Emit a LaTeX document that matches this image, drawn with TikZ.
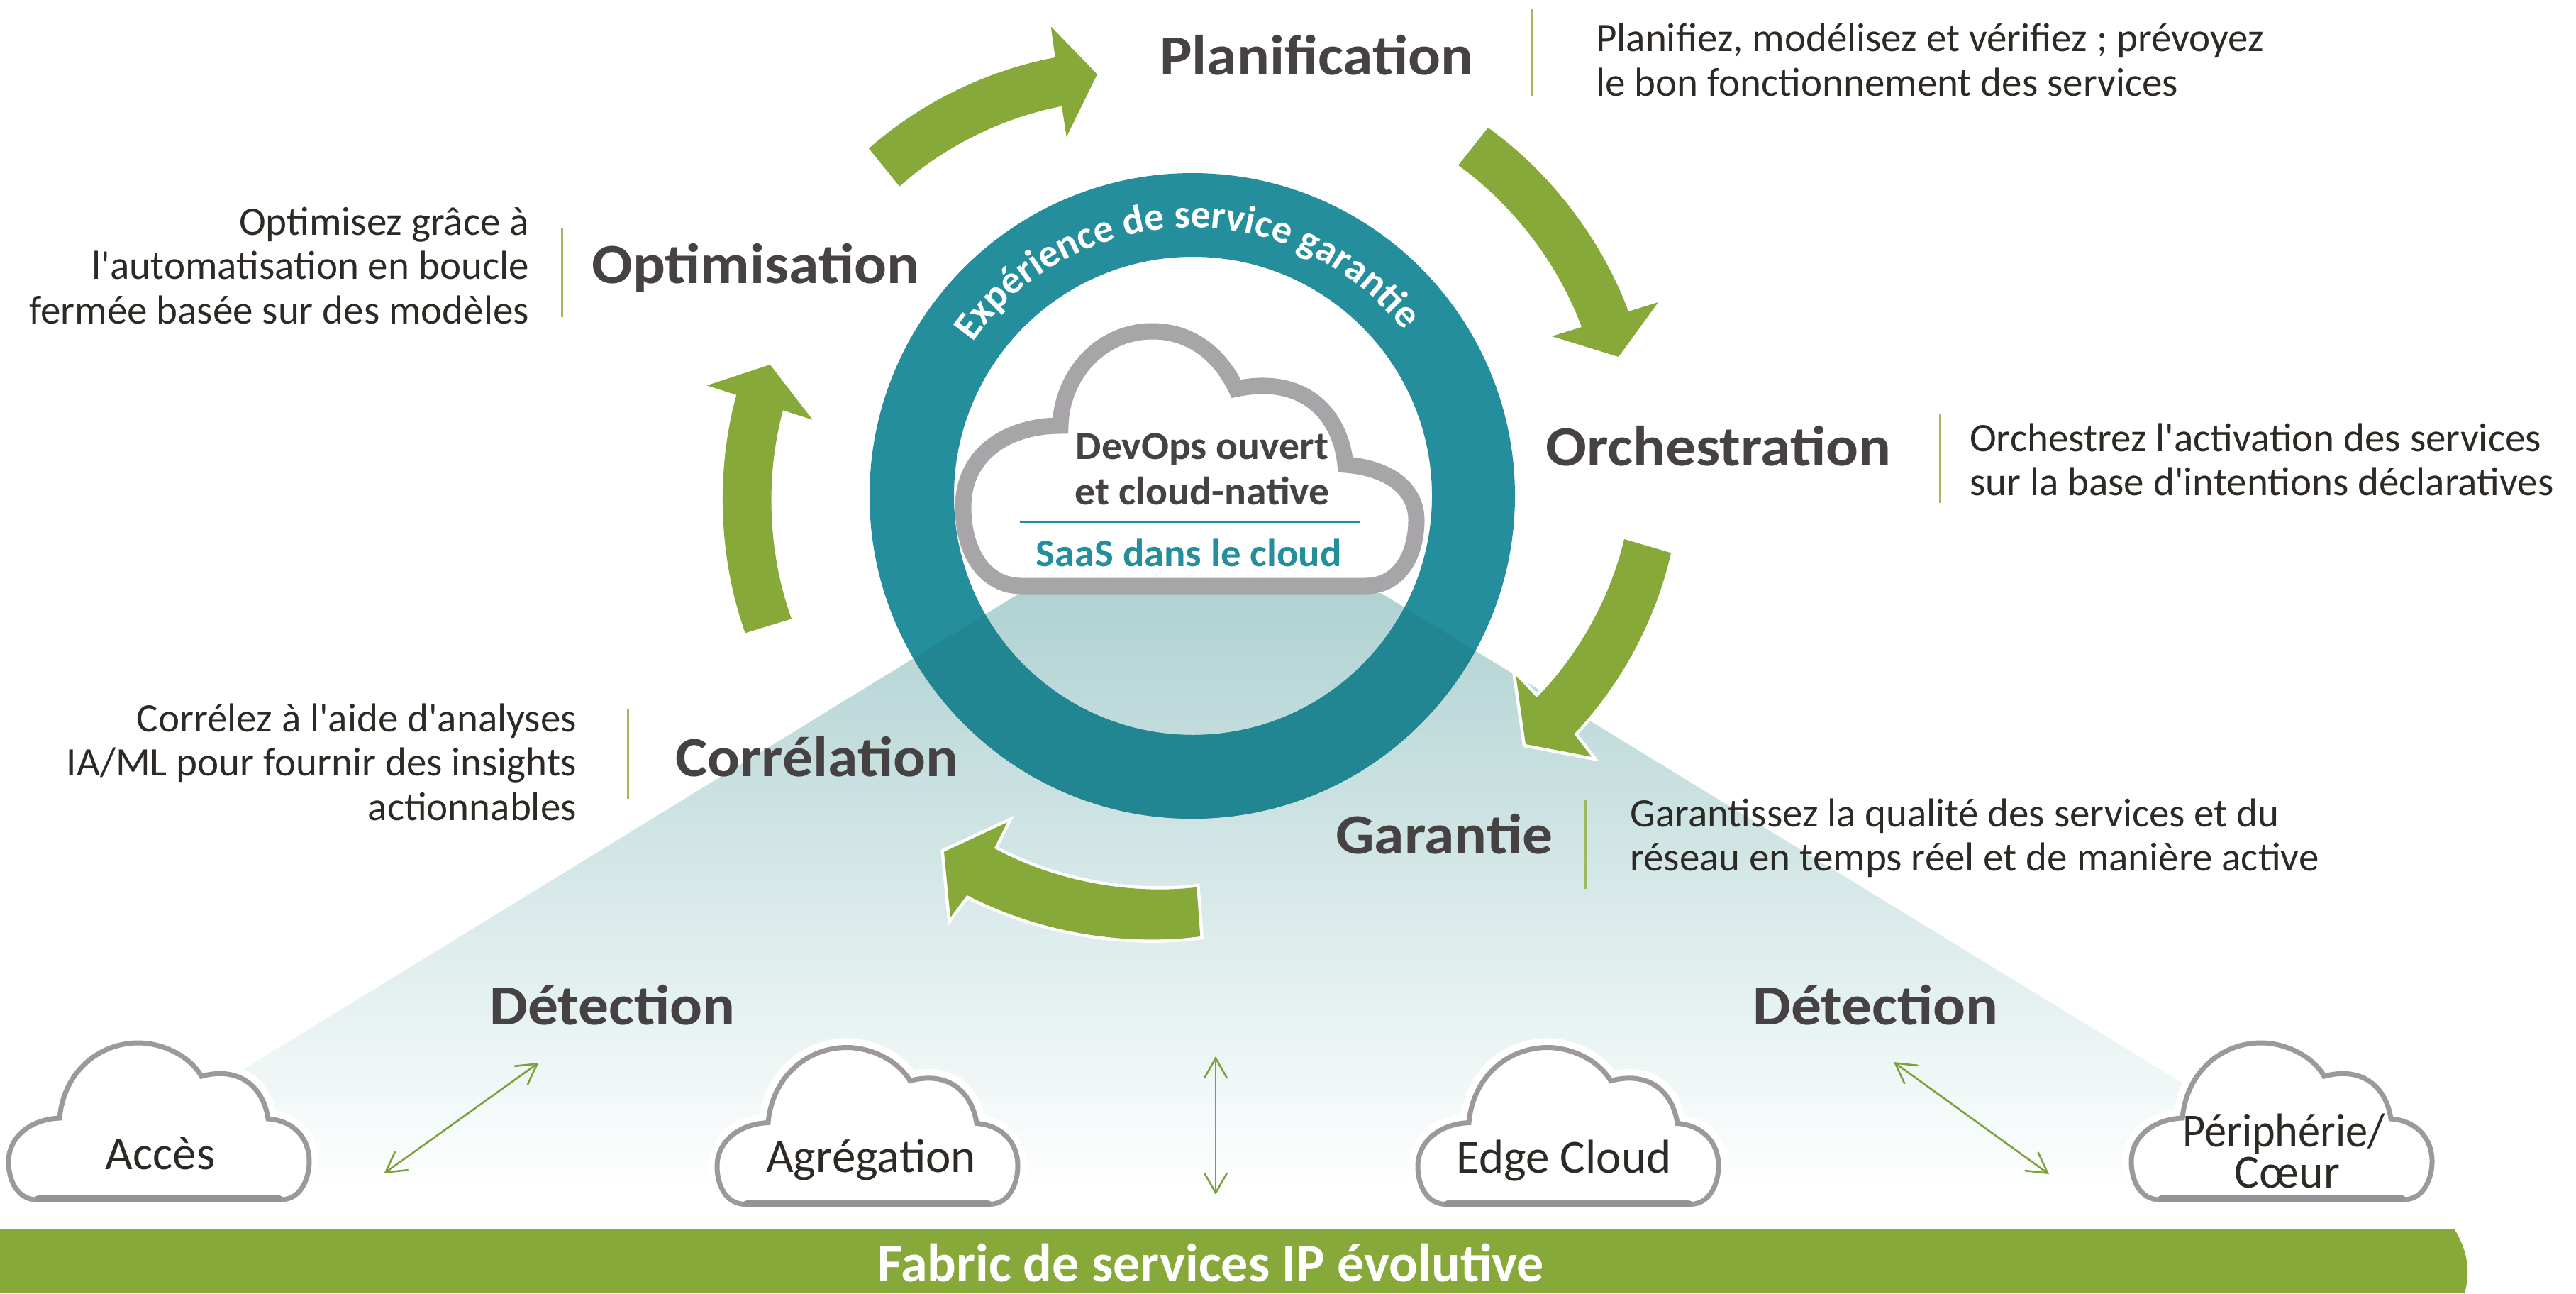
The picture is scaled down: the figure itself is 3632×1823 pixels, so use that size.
\documentclass[tikz,border=0pt]{standalone}
\usepackage{fontspec}
\usetikzlibrary{arrows.meta,decorations.text}
\newfontfamily\lat{Carlito}
\newfontfamily\latb[FakeStretch=1.07]{Carlito}
\newfontfamily\latc[FakeStretch=1.03]{Carlito}
\newfontfamily\latn[FakeStretch=.93]{Carlito}
\newfontfamily\latm[FakeStretch=.98]{Carlito}
\definecolor{grn}{HTML}{87A93A}
\definecolor{rulegrn}{HTML}{9DB861}
\definecolor{thinc}{HTML}{7BA23A}
\definecolor{teal}{HTML}{248E9C}
\definecolor{tealdark}{HTML}{228692}
\definecolor{head}{HTML}{464243}
\definecolor{body}{HTML}{2D2A26}
\definecolor{tri}{HTML}{B0D2D2}
\definecolor{cloudbig}{HTML}{A7A5A8}
\definecolor{cloudsm}{HTML}{9B999C}
\definecolor{cloudbot}{HTML}{959396}
\tikzset{
 heading/.style={anchor=base west,inner sep=0pt,text=head,font=\fontsize{80}{80}\selectfont\latb\bfseries},
 descl/.style={anchor=north west,inner sep=0pt,align=left,text=body,font=\fontsize{57}{62.5}\selectfont\lat},
 descr/.style={anchor=north east,inner sep=0pt,align=right,text=body,font=\fontsize{57}{62.5}\selectfont\lat},
 cloudlab/.style={anchor=base,inner sep=0pt,text=body,font=\fontsize{67}{58}\selectfont\lat},
 centerlab/.style={anchor=base,inner sep=0pt,font=\fontsize{56}{56}\selectfont\latc\bfseries},
 sep/.style={rulegrn,line width=3pt},
 blockarrow/.style={fill=grn,looseness=.85,preaction={draw=white,line width=9pt,miter limit=10}},
 twoway/.style={thinc,line width=2.6pt,{Straight Barb[length=28pt,width=32pt]}-{Straight Barb[length=28pt,width=32pt]}},
}
\newcommand{\cloudp}{(1440,826) -- (1925,826) .. controls (1975,826) and (1997,780) .. (1997,733) .. controls (1997,690) and (1960,660) .. (1897,655) .. controls (1890,585) and (1840,528) .. (1743,548) .. controls (1715,490) and (1670,467) .. (1625,467) .. controls (1550,467) and (1497,530) .. (1495,600) .. controls (1420,600) and (1358,640) .. (1358,715) .. controls (1358,780) and (1390,826) .. (1440,826) -- cycle}
\newcommand{\smallp}{(52,1691) -- (396,1691) .. controls (425,1691) and (436,1660) .. (436,1637) .. controls (436,1605) and (415,1580) .. (378,1577) .. controls (372,1535) and (340,1502) .. (284,1517) .. controls (265,1485) and (225,1470) .. (195,1470) .. controls (140,1470) and (90,1510) .. (84,1576) .. controls (40,1578) and (12,1605) .. (12,1637) .. controls (12,1665) and (25,1691) .. (52,1691) -- cycle}
\newcommand{\smallcloud}[2]{\begin{scope}[shift={(#1,#2)}]
\path[fill=white,draw=white,line width=26pt,line join=round] \smallp;
\path[fill=white,draw=cloudsm,line width=7pt,miter limit=10] \smallp;
\draw[cloudbot,line width=10pt,line cap=round] (54,1690) -- (394,1690);
\end{scope}}
\begin{document}
\begin{tikzpicture}[x=1pt,y=-1pt]
\useasboundingbox (0,0) rectangle (3632,1823);
% triangle
\shade[top color=tri,bottom color=white] (1438,836) -- (1947,836) -- (3328,1680) -- (62,1680) -- cycle;
% ring
\fill[teal,even odd rule] (1681,699) circle[radius=455] (1682,699) circle[radius=337];
\begin{scope}
\clip (1438,836) -- (1947,836) -- (3328,1680) -- (62,1680) -- cycle;
\fill[tealdark,even odd rule] (1681,699) circle[radius=455] (1682,699) circle[radius=337];
\end{scope}
% ring text
\path[decorate,decoration={text along path,text align=center,text={|\fontsize{56}{56}\selectfont\lat\bfseries\color{white}|Expérience de service garan{ti}e}}]
 plot[domain=148:35,samples=60,smooth] ({1681+378*cos(\x)},{699-378*sin(\x)});
% central cloud
\path[fill=white,draw=cloudbig,line width=23pt,miter limit=10] \cloudp;
\draw[teal,line width=3pt] (1438,735) coordinate (dl) -- (1917,735) coordinate (dr);
\node[centerlab,text=head] (devops) at (1695,647) {DevOps ouvert};
\node[centerlab,text=head] (native) at (1695,711) {et cloud-native};
\node[centerlab,text=teal,font=\fontsize{55}{55}\selectfont\latc\bfseries] (saas) at (1676,798) {SaaS dans le cloud};
% block arrows
\path[blockarrow] (1225,209.3) to[bend left=15.5] (1487.7,81) -- (1481.7,37.3) -- (1547,104.7) -- (1503.7,193) -- (1497,149.7) to[bend right=15.5] (1268.3,262.7) -- cycle;
\path[blockarrow] (2098,180) to[bend left=17] (2296,439) -- (2338,426) -- (2282,503) -- (2188,474) -- (2230,461) to[bend right=17] (2056,233) -- cycle;
\path[blockarrow] (2356,779.3) to[bend left=15.5] (2219.3,1034.7) -- (2244,1066.7) -- (2151,1049) -- (2137.3,952.3) -- (2166.7,983.3) to[bend right=15.5] (2290,760) -- cycle;
\path[blockarrow] (1692.3,1320) to[bend left=17.5] (1363.3,1261.7) -- (1340,1293.3) -- (1331,1200.7) -- (1420,1159.3) -- (1401.7,1195.7) to[bend right=17.5] (1687.3,1250.7) -- cycle;
\path[blockarrow] (1050.7,892.3) to[bend left=17.5] (1038.3,556.7) -- (996.7,543.3) -- (1085.7,514) -- (1145.7,591.7) -- (1104,578.3) to[bend right=17.5] (1116,872.3) -- cycle;
% small clouds
\smallcloud{0}{0}
\smallcloud{999}{6.5}
\smallcloud{1987}{6.5}
\smallcloud{2993}{0}
% thin arrows
\coordinate (a1) at (541.5,1654); \coordinate (a2) at (759.5,1498);
\coordinate (b1) at (1714,1489); \coordinate (b2) at (1714,1684);
\coordinate (c1) at (2670,1497); \coordinate (c2) at (2889,1655);
\draw[twoway] (a1) -- (a2);
\draw[twoway] (b1) -- (b2);
\draw[twoway] (c1) -- (c2);
% bar
\fill[grn] (0,1732) -- (3460,1732) .. controls (3478,1760) and (3484,1790) .. (3475,1823) -- (0,1823) -- cycle;
\node[anchor=base west,inner sep=0pt,text=white,font=\fontsize{76}{76}\selectfont\lat\bfseries] (bar) at (1237,1806) {Fabric de services IP évolutive};
% headings
\node[heading] (h1) at (1635,105) {Planification};
\node[heading] (h2) at (834,399) {Optimisation};
\node[heading] (h3) at (2179,656) {Orchestration};
\node[heading] (h4) at (1883,1203) {Garantie};
\node[heading] (h5) at (952,1094) {Corrélation};
\node[heading] (h6) at (690,1444) {Détection};
\node[heading] (h7) at (2471,1444) {Détection};
% rules
\draw[sep] (2159,12) coordinate (r1a) -- (2159,136) coordinate (r1b);
\draw[sep] (792,322) coordinate (r2a) -- (792,447) coordinate (r2b);
\draw[sep] (2735,584) coordinate (r3a) -- (2735,709) coordinate (r3b);
\draw[sep] (2235,1128) coordinate (r4a) -- (2235,1253) coordinate (r4b);
\draw[sep] (885,1000) coordinate (r5a) -- (885,1126) coordinate (r5b);
% descriptions
\node[descl] (d1) at (2250,32.7) {\rule{0pt}{40pt}Planifiez, modélisez et vérifiez ; prévoyez\\le bon fonctionnement des services};
\node[descr] (d2) at (746,291) {\rule{0pt}{40pt}Optimisez grâce à\\l'automatisation en boucle\\fermée basée sur des modèles};
\node[descl] (d3) at (2777,596) {\rule{0pt}{40pt}Orchestrez l'activation des services\\sur la base d'intentions déclaratives};
\node[descl] (d4) at (2298,1125) {\rule{0pt}{40pt}Garantissez la qualité des services et du\\réseau en temps réel et de manière active};
\node[descr] (d5) at (813,991) {\rule{0pt}{40pt}Corrélez à l'aide d'analyses\\IA/ML pour fournir des insights\\actionnables};
% cloud labels
\node[cloudlab] (l1) at (226,1648) {Accès};
\node[cloudlab] (l2) at (1228,1652) {Agrégation};
\node[cloudlab] (l3) at (2205,1653) {Edge Cloud};
\node[cloudlab,font=\fontsize{67}{58}\selectfont\latn] (l4) at (3220,1616) {Périphérie/};
\node[cloudlab,font=\fontsize{67}{58}\selectfont\latm] (l5) at (3225,1674) {Cœur};
\end{tikzpicture}
\end{document}
